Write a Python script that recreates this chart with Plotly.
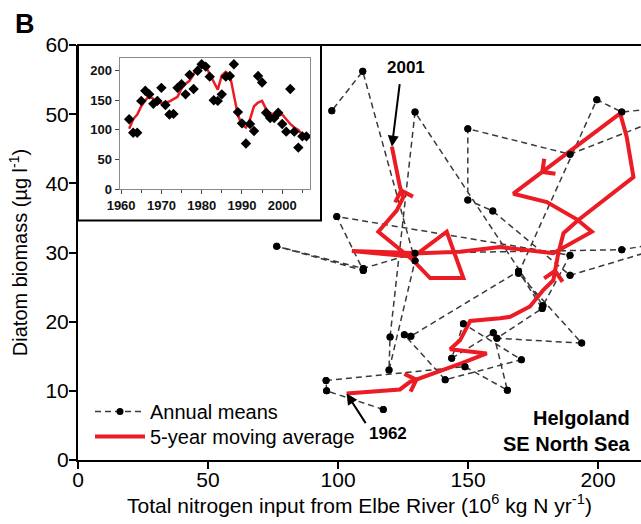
import math
import plotly.graph_objects as go

# ---------------- data ----------------
# main panel: annual means, 1962-2001 (nitrogen input vs diatom biomass)
years = list(range(1962, 2002))
nitrogen = [117.4, 95.6, 95.4, 148.8, 165.1, 159.7, 143.7, 148.2, 170.5, 141.2,
            125.5, 128.0, 169.4, 178.5, 161.1, 193.7, 169.4, 199.5, 209.1, 239.0,
            189.2, 149.9, 149.9, 159.5, 189.2, 239.0, 209.1, 129.6, 109.7, 76.4,
            109.7, 99.5, 189.2, 178.8, 129.6, 120.0, 119.6, 129.6, 109.5, 97.6]
diatom = [7.3, 10.0, 11.5, 13.5, 10.1, 18.4, 14.7, 19.7, 14.5, 11.6,
          18.1, 17.9, 27.3, 21.9, 17.6, 16.9, 27.0, 52.1, 50.3, 51.5,
          44.2, 47.9, 37.6, 36.0, 26.7, 32.3, 30.4, 29.9, 27.7, 30.9,
          27.4, 35.2, 29.6, 22.3, 50.3, 17.8, 13.0, 28.8, 56.2, 50.5]

# main panel: 5-year moving average path (vertices, 1962 -> 2001)
ma_nitrogen = [103.3, 123.8, 127.7, 139.2, 147.6, 157.2, 143.1, 146.9, 148.2, 150.8,
               162.3, 166.2, 173.8, 179.0, 182.8, 184.7, 186.7, 192.4, 213.6, 211.0,
               208.5, 167.4, 180.3, 191.8, 197.6, 186.7, 182.8, 162.3, 146.9, 131.5,
               105.3, 129.0, 141.8, 148.2, 135.4, 128.5, 115.5, 122.6, 125.1, 123.8,
               120.7]
ma_diatom = [9.6, 10.2, 11.3, 12.8, 14.0, 15.4, 16.0, 17.3, 18.3, 20.1,
             20.5, 20.7, 22.2, 24.6, 26.0, 29.9, 32.8, 34.7, 40.9, 46.7,
             50.1, 38.5, 37.3, 34.8, 33.0, 30.8, 29.9, 30.8, 30.1, 29.9,
             30.2, 29.4, 33.0, 26.3, 26.3, 29.0, 33.0, 36.1, 38.0, 39.5,
             45.3]
# direction chevrons on the moving-average path: (segment index, fraction)
chevrons = [(2, 0.3), (14, 0.45), (20, 0.75), (38, 0.9)]

# inset: nitrogen input time series
inset_years = list(range(1962, 2007))
inset_nitrogen = [118, 95, 95, 149, 166, 160, 144, 149, 171, 142,
                  126, 127, 171, 177, 160, 193, 169, 200, 211, 207,
                  190, 150, 149, 160, 190, 191, 211, 130, 111, 77,
                  110, 98, 191, 180, 129, 120, 120, 129, 110, 97,
                  169, 97, 70, 89, 89]
inset_ma = [102, 118, 126, 140, 150, 157, 152, 147, 145, 146,
            148, 152, 156, 170, 178, 183, 195, 205, 212, 208,
            194, 180, 168, 192, 198, 193, 160, 125, 108, 104,
            118, 140, 146, 149, 135, 128, 126, 124, 126, 118,
            110, 104, 100, 92, 86]

x_ticks = [0, 50, 100, 150, 200]
y_ticks = [0, 10, 20, 30, 40, 50, 60]
inset_x_ticks = [1960, 1970, 1980, 1990, 2000]
inset_y_ticks = [0, 50, 100, 150, 200]

# ---------------- layout constants ----------------
W, H = 641, 524
ML, MR, MT, MB = 78, 0, 45, 64
X_RANGE = [0, 216.5]
Y_RANGE = [0, 60]
PW, PH = W - ML - MR, H - MT - MB
px_x = PW / (X_RANGE[1] - X_RANGE[0])
px_y = PH / (Y_RANGE[1] - Y_RANGE[0])

RED = '#ec1c24'
FONT = 'Liberation Sans, Arial, sans-serif'

fig = go.Figure()
fig.add_trace(go.Scatter(
    x=nitrogen, y=diatom, mode='lines+markers', name='Annual means',
    line=dict(color='#3a3a3a', width=1.5, dash='6px,4px'),
    marker=dict(color='black', size=7), xaxis='x', yaxis='y', legend='legend'))
fig.add_trace(go.Scatter(
    x=ma_nitrogen, y=ma_diatom, mode='lines', name='5-year moving average',
    line=dict(color=RED, width=4), xaxis='x', yaxis='y', legend='legend2'))
fig.add_trace(go.Scatter(
    x=nitrogen, y=diatom, mode='markers', showlegend=False,
    marker=dict(color='black', size=7), xaxis='x', yaxis='y'))
fig.add_trace(go.Scatter(
    x=inset_years, y=inset_ma, mode='lines', showlegend=False,
    line=dict(color=RED, width=2.5), xaxis='x2', yaxis='y2'))
fig.add_trace(go.Scatter(
    x=inset_years, y=inset_nitrogen, mode='markers', showlegend=False,
    marker=dict(symbol='diamond', color='black', size=8), xaxis='x2', yaxis='y2'))

annotations = []
# chevrons along the moving-average path
for i, t in chevrons:
    x0, y0 = ma_nitrogen[i], ma_diatom[i]
    x1, y1 = ma_nitrogen[i + 1], ma_diatom[i + 1]
    hx, hy = x0 + t * (x1 - x0), y0 + t * (y1 - y0)
    dxp, dyp = (x1 - x0) * px_x, (y1 - y0) * px_y
    n = math.hypot(dxp, dyp)
    annotations.append(dict(
        x=hx, y=hy, xref='x', yref='y', text='', showarrow=True,
        ax=-dxp / n * 10, ay=dyp / n * 10,
        arrowhead=4, arrowcolor=RED, arrowwidth=0.6, arrowsize=6))

# year labels with arrows
first = (ma_nitrogen[0], ma_diatom[0])
last = (ma_nitrogen[-1], ma_diatom[-1])
annotations += [
    dict(x=last[0], y=last[1], xref='x', yref='y', text='', showarrow=True,
         ax=8, ay=-64, arrowhead=2, arrowsize=1.1, arrowwidth=2, arrowcolor='black'),
    dict(x=last[0], y=last[1], xref='x', yref='y', text='<b>2001</b>', showarrow=False,
         xshift=14, yshift=79, font=dict(size=17, color='black')),
    dict(x=first[0], y=first[1], xref='x', yref='y', text='', showarrow=True,
         ax=20, ay=31, arrowhead=2, arrowsize=1.1, arrowwidth=2, arrowcolor='black'),
    dict(x=first[0], y=first[1], xref='x', yref='y', text='<b>1962</b>', showarrow=False,
         xshift=41, yshift=-40, font=dict(size=17, color='black')),
    dict(x=0.986, y=0.069, xref='paper', yref='paper', xanchor='right', yanchor='middle',
         align='right', showarrow=False, text='<b>Helgoland<br>SE North Sea</b>',
         font=dict(size=20, color='black')),
    dict(x=(25 - ML) / PW, y=(H - MB - 24) / PH, xref='paper', yref='paper',
         xanchor='center', yanchor='middle', showarrow=False, text='<b>B</b>',
         font=dict(size=27, color='black')),
]

# inset geometry (paper coords)
ix0, ix1 = (119.5 - ML) / PW, (310 - ML) / PW
iy0, iy1 = (H - MB - 189) / PH, (H - MB - 58) / PH
fx1, fy0 = (321 - ML) / PW, (H - MB - 220.5) / PH

shapes = [
    dict(type='line', xref='paper', yref='paper', x0=0, x1=1, y0=1, y1=1,
         line=dict(color='black', width=2)),
    dict(type='rect', xref='paper', yref='paper', x0=0, x1=fx1, y0=fy0, y1=1,
         line=dict(color='black', width=2), layer='above'),
]

inset_font = dict(size=13, weight='bold', color='#111')
legend_style = dict(xanchor='left', yanchor='top', bgcolor='rgba(0,0,0,0)',
                    font=dict(size=20), itemwidth=50)

fig.update_layout(
    width=W, height=H, autosize=False,
    margin=dict(l=ML, r=MR, t=MT, b=MB),
    paper_bgcolor='white', plot_bgcolor='white',
    font=dict(family=FONT, color='black'),
    xaxis=dict(range=X_RANGE, domain=[0, 1], tickvals=x_ticks, ticks='outside',
               ticklen=7, tickwidth=2, tickcolor='black', showline=True, linewidth=2,
               linecolor='black', showgrid=False, zeroline=False,
               tickfont=dict(size=21), ticklabelstandoff=-7,
               title=dict(text='Total nitrogen input from Elbe River (10<sup>6</sup> kg N yr<sup>-1</sup>)',
                          font=dict(size=21), standoff=1)),
    yaxis=dict(range=Y_RANGE, domain=[0, 1], tickvals=y_ticks, ticks='outside',
               ticklen=7, tickwidth=2, tickcolor='black', showline=True, linewidth=2,
               linecolor='black', showgrid=False, zeroline=False,
               tickfont=dict(size=21), ticklabelstandoff=-4,
               title=dict(text='Diatom biomass (µg l<sup>-1</sup>)', font=dict(size=20),
                          standoff=12)),
    xaxis2=dict(domain=[ix0, ix1], anchor='y2', range=[1959.6, 2006.9],
                tickvals=inset_x_ticks, ticks='outside', ticklen=4, tickcolor='#444',
                minor=dict(dtick=5, ticks='outside', ticklen=3, tickcolor='#444'),
                showline=True, mirror=True, linecolor='#8a8a8a', linewidth=1,
                showgrid=False, zeroline=False, tickfont=inset_font),
    yaxis2=dict(domain=[iy0, iy1], anchor='x2', range=[0, 221.5],
                tickvals=inset_y_ticks, ticks='outside', ticklen=4, tickcolor='#444',
                showline=True, mirror=True, linecolor='#8a8a8a', linewidth=1,
                showgrid=False, zeroline=False, tickfont=inset_font),
    legend=dict(x=(90 - ML) / PW, y=(H - MB - 392) / PH, **legend_style),
    legend2=dict(x=(90 - ML) / PW, y=(H - MB - 417) / PH, **legend_style),
    annotations=annotations,
    shapes=shapes,
)

fig.write_html('out.html', config={'displayModeBar': False},
               post_script="document.body.style.margin='0px';document.body.style.padding='0px';")
